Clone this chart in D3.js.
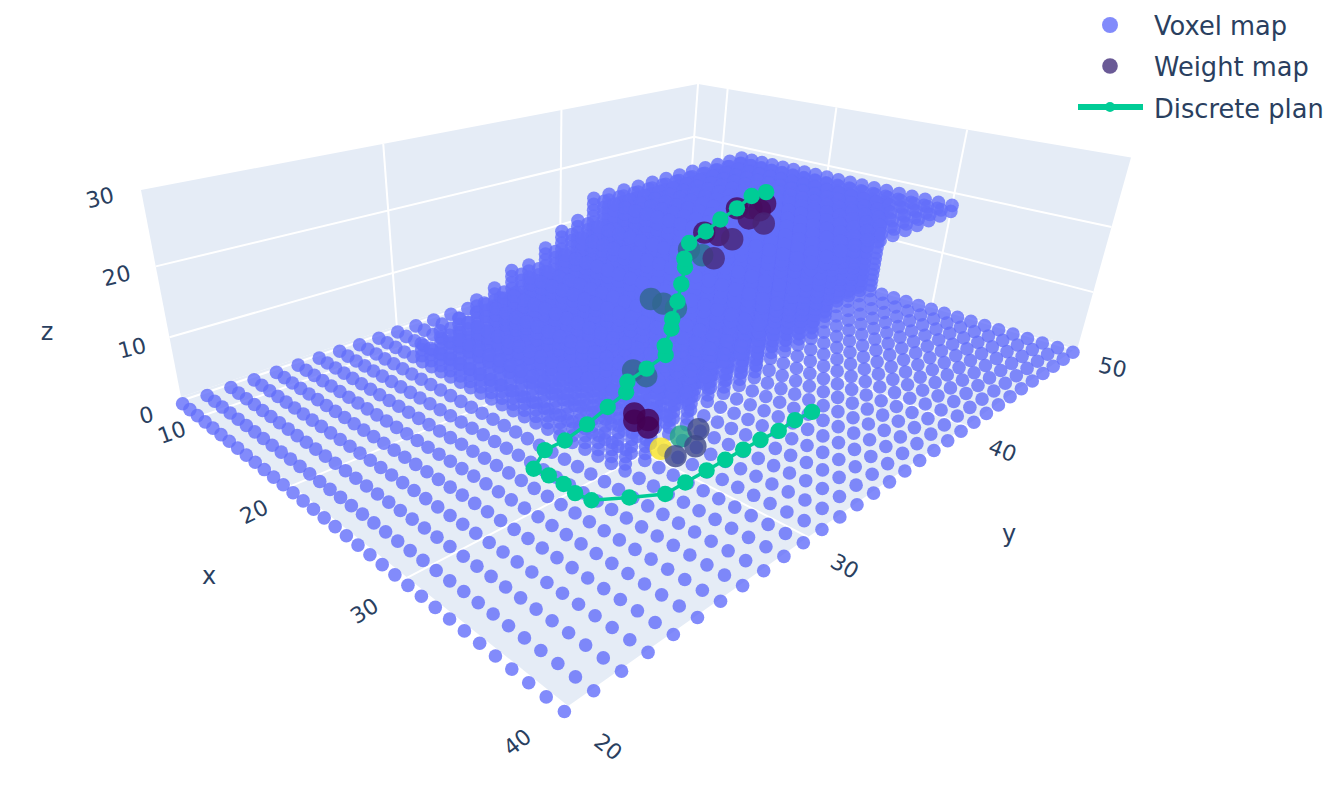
<!DOCTYPE html><html><head><meta charset="utf-8"><style>html,body{margin:0;background:#fff}svg{display:block}</style></head><body><script src="https://cdn.jsdelivr.net/npm/d3@7"></script>
<script>
// ---------- data ----------
const gridX=d3.range(7,41), gridY=d3.range(20,51);
const voxelY=[29,30,31,32,33,34,35,36,37,38,39,40,41,42,43,44,45,46,47,48,49,50];
const roofZ =[ 3, 4, 5, 7, 8,10,10,12,14,15,18,18,18,18,18,18,18,18,18,18,18,18];
const colXMax=[30,30,29,29,29,28,28,28,28,28,27,27,27,27,27,26,26,25,25,25,25,25];
const roofXMax=[30,30,30,30,30,30,30,30,30,30,30,30,30,30,30,30,30,30,30,30,30,30];
const voxelXMin=12, roofThickness=2;
const planX=[33.4,33.3,33.4,33.3,33.3,33.3,33.3,33.3,33.3,32.3,31.2,30.2,29.2,28.1,27.1,26.1,26.2,26.5,26.7,26.9,26.4,26.7,27,26.5,25.9,25.4,24.7,23.9,23.1,22.5,21.8,22.1,22,21.2,20.1,20.2];
const planY=[36.8,35.8,34.7,33.7,32.7,31.7,30.7,29.6,28.6,27.6,26.6,26.5,26.6,26.6,26.5,27.6,28.5,29.4,30.3,31.1,31.5,32.3,33.1,33.4,34.2,34.6,35.4,36.2,37,37.4,38.2,39,40,41.8,43.8,44.8];
const planZ=[1,1,1,1,1,1,1,1,1,1,1,1,1,1,1,1,1.2,2.6,4.1,5.4,6,7.2,8.5,9.1,10.3,10.9,12.2,13.5,14.8,15.4,16.7,18,19,19,19,19];
const weightX=[31.3,31.7,32.2,32.8,32.3,28.4,28.7,29.4,29.7,26.1,27.1,23,24,25,22.2,23.4,24.3,22.1,23.1,24.2,21.2,23.1,24.4,21.8,21.8,22.5];
const weightY=[29.8,30.5,31,30.4,29.8,30.5,30.3,30.5,30.3,32,32,35.1,35.1,35.1,37.9,37.8,37.8,38.9,39,39,41.8,41,40.9,42.3,43.3,42.3];
const weightZ=[3.3,4.4,5.2,4.3,3.3,4.5,4,4.5,4,6.8,6.8,11.7,11.7,11.7,16.2,16.1,16.2,17.9,18,18,19,19,19,19,19,19];
const weightV=[1,.6,.22,.22,.22,0,0,0,0,.32,.33,.33,.33,.38,.3,.38,.12,.03,.05,.1,.02,.05,.1,.03,.03,.03];
const xTicks=[10,20,30,40], yTicks=[20,30,40,50], zTicks=[0,10,20,30];
const legendNames=["Voxel map","Weight map","Discrete plan"];
const xRange=[6.95,40.2], yRange=[20,50], zRange=[1,30];
// ---------- camera ----------
const W=1332,H=798;
const VX=[-457,-112],VY=[1731,-112.6],VZ=[541,2260],O=[181,397],AL=-.3777,BE=.4853,GA=-.1;
const sx=d3.scaleLinear().domain(xRange).range([0,1]),
      sy=d3.scaleLinear().domain(yRange).range([0,1]),
      sz=d3.scaleLinear().domain(zRange).range([0,1]);
function depth(x,y,z){return AL*sx(x)+BE*sy(y)+GA*sz(z)+1;}
function proj(x,y,z){const a=AL*sx(x),b=BE*sy(y),c=GA*sz(z),d=a+b+c+1;
  return [(a*VX[0]+b*VY[0]+c*VZ[0]+O[0])/d,(a*VX[1]+b*VY[1]+c*VZ[1]+O[1])/d];}
const svg=d3.select('body').append('svg').attr('width',W).attr('height',H).attr('viewBox',`0 0 ${W} ${H}`);
const [x0,x1]=xRange,[y0,y1]=yRange,[z0,z1]=zRange;
const poly=c=>c.map(p=>proj(...p).map(v=>v.toFixed(1)).join(',')).join(' ');
// walls and floor
const walls=svg.append('g');
walls.selectAll('polygon').data([
 [[x0,y0,z0],[x1,y0,z0],[x1,y1,z0],[x0,y1,z0]],
 [[x0,y0,z0],[x0,y0,z1],[x0,y1,z1],[x0,y1,z0]],
 [[x0,y1,z0],[x0,y1,z1],[x1,y1,z1],[x1,y1,z0]]]).join('polygon')
 .attr('points',poly).attr('fill','#e5ecf6');
const segs=[];
[10,20,30].forEach(x=>{segs.push([[x,y0,z0],[x,y1,z0]],[[x,y1,z0],[x,y1,z1]]);});
[30,40].forEach(y=>{segs.push([[x0,y,z0],[x1,y,z0]],[[x0,y,z0],[x0,y,z1]]);});
[0.45,10,20].forEach(z=>{segs.push([[x0,y0,z],[x0,y1,z]],[[x0,y1,z],[x1,y1,z]]);});
segs.push([[x0,y1,z0],[x0,y1,z1]]);
walls.selectAll('line').data(segs).join('line')
 .attr('x1',d=>proj(...d[0])[0]).attr('y1',d=>proj(...d[0])[1])
 .attr('x2',d=>proj(...d[1])[0]).attr('y2',d=>proj(...d[1])[1])
 .attr('stroke','#fff').attr('stroke-width',2);
// voxels
const voxels=[];
gridX.forEach(x=>gridY.forEach(y=>voxels.push([x,y,0])));
voxelY.forEach((y,i)=>{
  d3.range(voxelXMin,roofXMax[i]+1).forEach(x=>{
    const top=roofZ[i];
    const from=x<=colXMax[i]?1:top-roofThickness+1;
    d3.range(Math.max(1,from),top+1).forEach(z=>voxels.push([x,y,z]));
  });
});
voxels.sort((a,b)=>depth(...b)-depth(...a));
svg.append('g').selectAll('circle').data(voxels).join('circle')
 .attr('cx',d=>proj(...d)[0]).attr('cy',d=>proj(...d)[1]).attr('r',6.8)
 .attr('fill','#636efa').attr('fill-opacity',.8);
// weight map
const wIdx=d3.range(weightX.length).sort((a,b)=>depth(weightX[b],weightY[b],weightZ[b])-depth(weightX[a],weightY[a],weightZ[a]));
svg.append('g').selectAll('circle').data(wIdx).join('circle')
 .attr('cx',i=>proj(weightX[i],weightY[i],weightZ[i])[0]).attr('cy',i=>proj(weightX[i],weightY[i],weightZ[i])[1])
 .attr('r',11.2).attr('fill',i=>d3.interpolateViridis(weightV[i])).attr('fill-opacity',.8);
// plan
const planPts=planX.map((x,i)=>proj(x,planY[i],planZ[i]));
svg.append('path').attr('d',d3.line()(planPts)).attr('fill','none').attr('stroke','#00cc96').attr('stroke-width',3.5);
svg.append('g').selectAll('circle').data(planPts).join('circle')
 .attr('cx',d=>d[0]).attr('cy',d=>d[1]).attr('r',8.2).attr('fill','#00cc96');
// ticks
const ink='#2a3f5f';
function tick(g,p,t,rot,fs){g.append('text').attr('transform',`translate(${p[0]},${p[1]}) rotate(${rot})`)
  .attr('text-anchor','middle').attr('dominant-baseline','central').attr('font-family','"DejaVu Sans"').attr('font-size',fs).attr('fill',ink).text(t);}
const tk=svg.append('g');
const xRot=d3.scaleLinear().domain([10,40]).range([-20,-38]), yRot=d3.scaleLinear().domain([20,50]).range([38,13]);
const xNudge=[[9,3],[6,8],[4,9],[2,5]], yNudge=[[6,1],[5,1],[8,3],[9,3]];
xTicks.forEach((v,i)=>{const p=proj(v,18.44,z0);tick(tk,[p[0]+xNudge[i][0],p[1]+xNudge[i][1]],v,xRot(v),22);});
yTicks.forEach((v,i)=>{const p=proj(41.98,v,-.45);tick(tk,[p[0]+yNudge[i][0],p[1]+yNudge[i][1]],v,yRot(v),22);});
zTicks.forEach(v=>{const p=proj(x0,18.6,v);tick(tk,[p[0],p[1]],v,-14,22);});
tick(tk,[209,576],'x',0,24);tick(tk,[1009,534],'y',0,24);tick(tk,[47,332],'z',0,24);
// legend
const lg=svg.append('g').attr('font-family','"DejaVu Sans"').attr('font-size',25.7).attr('fill',ink);
legendNames.forEach((n,i)=>lg.append('text').attr('x',1154).attr('y',[26,67,109][i]).attr('dominant-baseline','central').text(n));
lg.append('circle').attr('cx',1110).attr('cy',25).attr('r',8).attr('fill','#636efa').attr('fill-opacity',.8);
lg.append('circle').attr('cx',1110).attr('cy',66).attr('r',7.8).attr('fill','#6a5a96');
lg.append('line').attr('x1',1078).attr('x2',1143).attr('y1',107).attr('y2',107).attr('stroke','#00cc96').attr('stroke-width',6);
lg.append('circle').attr('cx',1110).attr('cy',107).attr('r',5).attr('fill','#00cc96');
</script></body></html>
